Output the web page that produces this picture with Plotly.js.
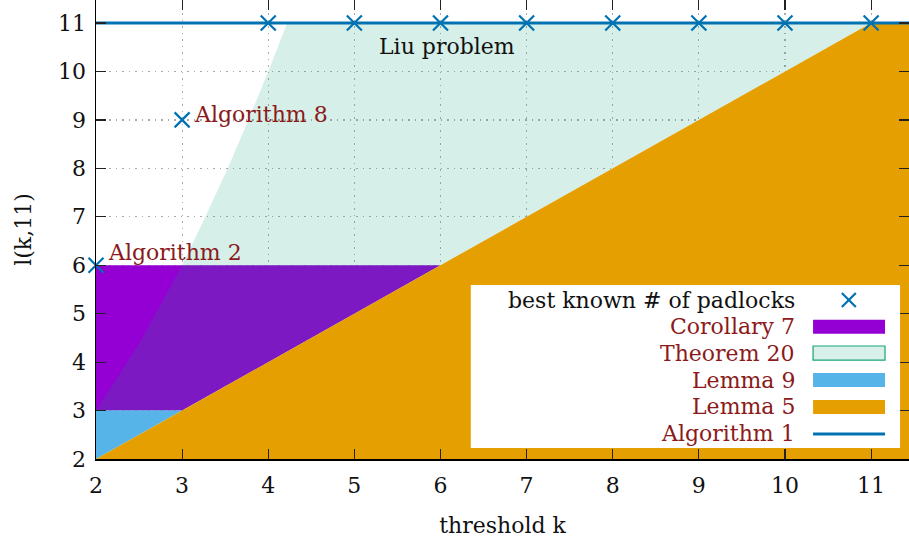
<!DOCTYPE html>
<html><head><meta charset="utf-8">
<script src="https://cdn.plot.ly/plotly-3.0.1.min.js"></script>
<style>html,body{margin:0;padding:0;background:#fff}#chart{width:909px;height:543px}</style>
</head><body><div id="chart"></div>
<script>
// ---- data ----
const bestK = [2, 3, 4, 5, 6, 7, 8, 9, 10, 11];
const bestL = [6, 9, 11, 11, 11, 11, 11, 11, 11, 11];
const alg1K = [2, 12];
const alg1L = [11, 11];
const cor7K = [2, 2, 6, 3];
const cor7L = [3, 6, 6, 3];
const thm20K = [2, 2.5, 3, 3.27, 3.53, 3.77, 4.0, 4.22, 11, 2];
const thm20L = [3, 4.38, 6, 7, 8, 9, 10, 11, 11, 2];
const lem9K = [2, 2, 3];
const lem9L = [2, 3, 3];
const lem5K = [2, 11, 12, 12];
const lem5L = [2, 11, 11, 2];
const ticks = [2, 3, 4, 5, 6, 7, 8, 9, 10, 11];
const legendNames = ["best known # of padlocks", "Corollary 7", "Theorem 20", "Lemma 9", "Lemma 5", "Algorithm 1"];

const BLUE = "#0072B2", PURPLE = "#9400D3", TEAL_FILL = "rgba(0,158,115,0.16)", TEAL_LINE = "#1aa37a",
      SKY = "#56B4E9", ORANGE = "#E69F00", RED = "#8b1a1a";
const FONT = "'DejaVu Serif', 'Liberation Serif', serif";
const FS = 22;

const traces = [
  {x: cor7K, y: cor7L, type: "scatter", mode: "none", fill: "toself", fillcolor: PURPLE, name: legendNames[1], hoverinfo: "skip"},
  {x: thm20K, y: thm20L, type: "scatter", mode: "none", fill: "toself", fillcolor: TEAL_FILL, name: legendNames[2], hoverinfo: "skip"},
  {x: lem9K, y: lem9L, type: "scatter", mode: "none", fill: "toself", fillcolor: SKY, name: legendNames[3], hoverinfo: "skip"},
  {x: lem5K, y: lem5L, type: "scatter", mode: "none", fill: "toself", fillcolor: ORANGE, name: legendNames[4], hoverinfo: "skip"},
  {x: alg1K, y: alg1L, type: "scatter", mode: "lines", line: {color: BLUE, width: 3}, name: legendNames[5]},
  {x: bestK, y: bestL, type: "scatter", mode: "markers", cliponaxis: false,
   marker: {symbol: "x-thin", size: 15, line: {color: BLUE, width: 2.2}}, name: legendNames[0]}
];

// custom legend (symbols to the right of right-aligned text)
const rowsY = [0.3464, 0.2882, 0.2309, 0.1721, 0.1133, 0.0545];
const textX = 0.862, swX0 = 0.882, swX1 = 0.9705, hh = 0.0153, mX = 0.926;
const shapes = [
  {type: "rect", xref: "paper", yref: "paper", x0: 0.461, x1: 0.989, y0: 0.024, y1: 0.379,
   fillcolor: "#fff", line: {width: 0}, layer: "above"},
  {type: "line", xref: "paper", yref: "paper", x0: mX - 0.0086, x1: mX + 0.0086, y0: rowsY[0] - hh, y1: rowsY[0] + hh, line: {color: BLUE, width: 2.2}, layer: "above"},
  {type: "line", xref: "paper", yref: "paper", x0: mX - 0.0086, x1: mX + 0.0086, y0: rowsY[0] + hh, y1: rowsY[0] - hh, line: {color: BLUE, width: 2.2}, layer: "above"},
  {type: "rect", xref: "paper", yref: "paper", x0: swX0, x1: swX1, y0: rowsY[1] - hh, y1: rowsY[1] + hh, fillcolor: PURPLE, line: {width: 0}, layer: "above"},
  {type: "rect", xref: "paper", yref: "paper", x0: swX0, x1: swX1, y0: rowsY[2] - hh, y1: rowsY[2] + hh, fillcolor: "#d9f0ea", line: {color: TEAL_LINE, width: 1.2}, layer: "above"},
  {type: "rect", xref: "paper", yref: "paper", x0: swX0, x1: swX1, y0: rowsY[3] - hh, y1: rowsY[3] + hh, fillcolor: SKY, line: {width: 0}, layer: "above"},
  {type: "rect", xref: "paper", yref: "paper", x0: swX0, x1: swX1, y0: rowsY[4] - hh, y1: rowsY[4] + hh, fillcolor: ORANGE, line: {width: 0}, layer: "above"},
  {type: "line", xref: "paper", yref: "paper", x0: swX0, x1: swX1, y0: rowsY[5], y1: rowsY[5], line: {color: BLUE, width: 3}, layer: "above"}
];

const annotations = legendNames.map((n, i) => ({
  xref: "paper", yref: "paper", x: textX, y: rowsY[i], text: n, showarrow: false,
  xanchor: "right", yanchor: "middle", font: {family: FONT, size: FS, color: i === 0 ? "#111" : RED}
}));
annotations.push(
  {x: 3.12, y: 9.12, text: "Algorithm 8", showarrow: false, xanchor: "left", yanchor: "middle", font: {family: FONT, size: FS, color: RED}},
  {x: 2.12, y: 6.27, text: "Algorithm 2", showarrow: false, xanchor: "left", yanchor: "middle", font: {family: FONT, size: FS, color: RED}},
  {x: 6.07, y: 10.52, text: "Liu problem", showarrow: false, xanchor: "center", yanchor: "middle", font: {family: FONT, size: FS, color: "#111"}}
);

const axisCommon = {
  tickvals: ticks, ticktext: ticks.map(String), ticks: "inside", ticklen: 10, tickwidth: 1.2, tickcolor: "#222",
  showline: true, linecolor: "#000", linewidth: 1.5, mirror: "ticks",
  showgrid: true, gridcolor: "#aaa", griddash: "1.5px,5px", gridwidth: 1.2,
  zeroline: false, tickfont: {family: FONT, size: FS, color: "#111"}
};

const layout = {
  width: 909, height: 543,
  margin: {l: 96, r: 0, t: 0, b: 84},
  paper_bgcolor: "#fff", plot_bgcolor: "#fff",
  showlegend: false,
  xaxis: Object.assign({}, axisCommon, {range: [2, 11.44], ticklabelstandoff: 6,
    title: {text: "threshold k", font: {family: FONT, size: FS, color: "#111"}, standoff: 20}}),
  yaxis: Object.assign({}, axisCommon, {range: [2, 11.475], ticklabelstandoff: 4,
    title: {text: "l(k,11)", font: {family: FONT, size: FS, color: "#111"}, standoff: 20}}),
  shapes: shapes,
  annotations: annotations
};

Plotly.newPlot("chart", traces, layout, {staticPlot: true, displayModeBar: false});
</script></body></html>
